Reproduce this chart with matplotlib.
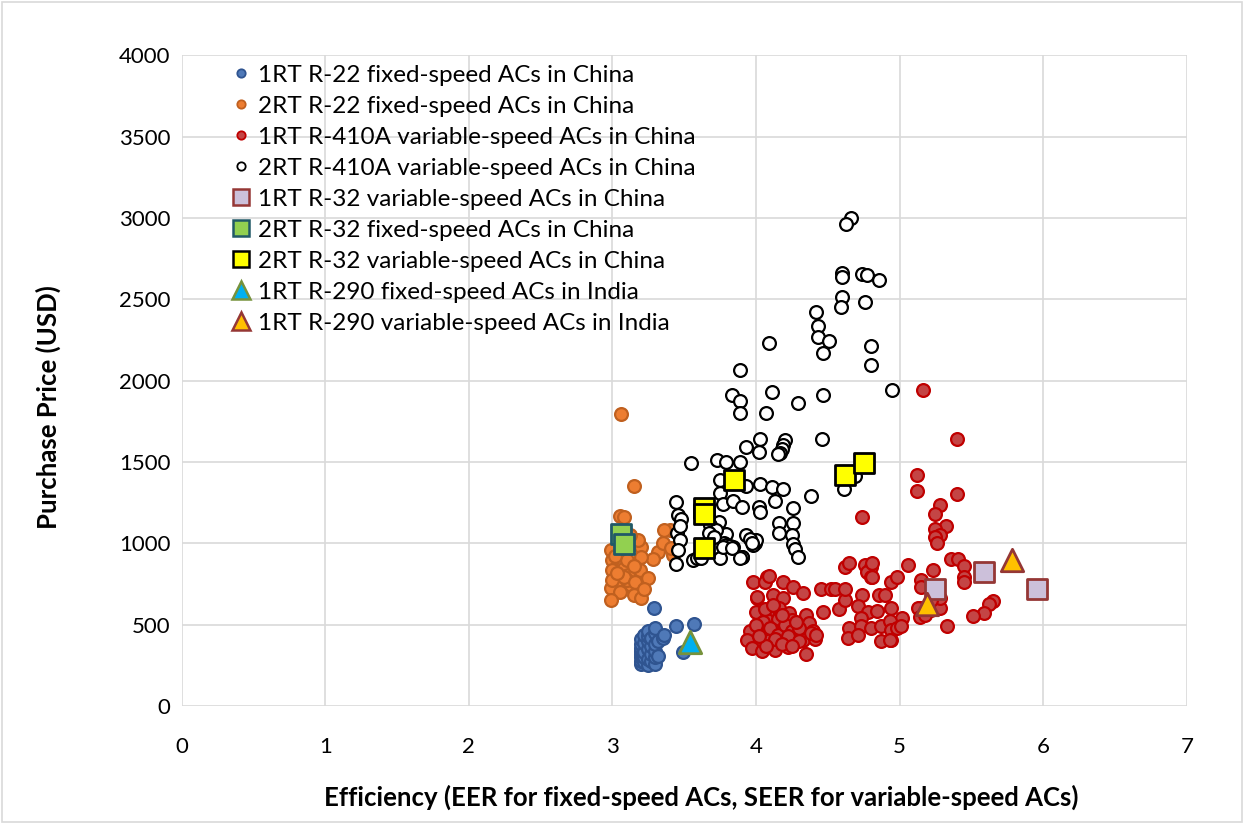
import matplotlib
matplotlib.use("Agg")
import matplotlib.pyplot as plt
from matplotlib.lines import Line2D
from matplotlib.patches import Rectangle

plt.rcParams['font.family'] = ['Lato', 'DejaVu Sans']

# 1RT R-22 fixed-speed ACs in China
r22_1rt_x = [3.20, 3.20, 3.20, 3.20, 3.20, 3.20, 3.20, 3.20, 3.22, 3.22, 3.22, 3.22, 3.22,
             3.25, 3.25, 3.25, 3.25, 3.25, 3.25, 3.27, 3.27, 3.27, 3.27, 3.30, 3.30, 3.30,
             3.30, 3.30, 3.30, 3.32, 3.32, 3.35, 3.36, 3.29, 3.44, 3.57, 3.49]
r22_1rt_y = [260, 280, 300, 320, 340, 360, 380, 410, 270, 300, 330, 390, 440,
             250, 290, 350, 400, 430, 460, 280, 320, 370, 420, 260, 300, 340,
             380, 450, 480, 310, 400, 420, 440, 604, 494, 506, 335]

# 2RT R-22 fixed-speed ACs in China
r22_2rt_x = [3.06, 3.15, 3.05, 3.08, 3.40, 2.99, 3.20, 3.32, 3.28, 3.20, 3.00, 3.08, 3.00,
             3.11, 3.19, 3.25, 3.04, 3.13, 2.99, 3.05, 3.15, 3.20, 2.99, 3.10, 3.00, 3.08,
             3.42, 3.36, 3.05, 3.10, 3.15, 3.02, 3.18, 3.12, 3.35, 3.41, 3.03, 3.16, 3.22]
r22_2rt_y = [1797, 1351, 1168, 1162, 1082, 960, 977, 947, 904, 916, 898, 849, 837,
             806, 837, 788, 745, 745, 727, 703, 684, 666, 653, 776, 776, 794,
             929, 1085, 1000, 900, 860, 920, 1020, 1050, 1000, 972, 820, 760, 720]

# 1RT R-410A variable-speed ACs in China
r410a_1rt_x = [3.98, 4.08, 4.06, 4.19, 4.26, 4.33, 4.45, 4.52, 4.01, 4.12, 4.19, 4.00, 4.08,
               4.16, 4.23, 4.35, 4.47, 4.08, 4.15, 4.25, 4.37, 3.96, 4.04, 4.12, 4.20, 4.33,
               4.40, 3.94, 4.03, 4.10, 4.16, 4.23, 4.33, 4.41, 3.97, 4.04, 4.13, 4.22, 4.35,
               4.09, 4.01, 4.05, 4.10, 4.15, 4.20, 4.25, 4.30, 4.00, 4.06, 4.12, 4.18, 4.22,
               4.28, 4.30, 4.38, 4.42, 4.13, 4.07, 4.18, 4.25, 4.02, 4.58,
               4.62, 4.65, 4.76, 4.80, 4.77, 4.80, 5.06, 4.94, 4.98, 5.15, 5.23, 4.62, 4.74,
               4.86, 4.90, 4.71, 4.78, 4.84, 4.94, 5.02, 5.14, 5.22, 4.65, 4.73, 4.73, 4.80,
               4.87, 4.93, 4.94, 4.98, 4.64, 4.71, 4.87, 4.94, 4.74, 5.16, 5.40, 5.12, 5.12,
               5.40, 5.28, 5.25, 5.32, 5.25, 5.28, 5.25, 5.26, 5.36, 5.41, 5.45, 5.45, 5.45,
               5.15, 5.65, 5.62, 5.59, 5.51, 5.33, 5.28, 5.13, 5.28, 5.14, 5.01, 4.93, 4.81,
               4.81, 4.55, 4.62, 5.22, 5.18]
r410a_1rt_y = [765, 796, 765, 765, 735, 694, 719, 719, 664, 684, 664, 576, 572,
               603, 572, 562, 576, 531, 535, 527, 511, 459, 450, 470, 459, 439,
               459, 408, 398, 408, 398, 408, 408, 413, 357, 337, 347, 364, 323,
               800, 670, 520, 480, 440, 500, 460, 480, 500, 600, 620, 560, 430,
               520, 400, 450, 440, 410, 370, 380, 370, 430, 596,
               857, 880, 868, 857, 827, 796, 868, 765, 792, 776, 837, 653, 684,
               684, 684, 617, 576, 582, 603, 541, 603, 592, 480, 541, 490, 480,
               494, 521, 470, 480, 419, 439, 398, 408, 1160, 1944, 1644, 1419, 1323,
               1303, 1235, 1180, 1107, 1086, 1052, 1041, 1001, 903, 903, 862, 796, 765,
               735, 649, 629, 572, 555, 494, 603, 603, 664, 547, 490, 404, 878,
               796, 720, 720, 650, 560]

# 2RT R-410A variable-speed ACs in China
r410a_2rt_x = [4.66, 4.63, 4.60, 4.60, 4.74, 4.77, 4.86, 4.60, 4.59, 4.76, 4.42, 4.43, 4.43,
               4.51, 4.47, 4.80, 4.80, 4.09, 3.89, 4.95, 3.83, 3.89, 3.89, 4.11, 4.07, 4.29,
               4.47, 4.46, 4.03, 3.93, 4.02, 4.20, 4.19, 4.18, 4.17, 4.15, 3.73, 3.79, 3.89,
               3.75, 3.93, 4.03, 4.11, 4.19, 4.38, 4.61, 3.75, 3.77, 3.84, 3.90, 4.02, 4.03,
               4.13, 4.26, 4.16, 4.26, 4.16, 4.25, 4.26, 4.27, 4.29, 3.93, 3.99, 3.98, 4.00,
               3.90, 3.84, 3.79, 3.74, 3.78, 3.71, 3.75, 3.55, 3.44, 3.46, 3.48, 3.68, 3.72,
               3.70, 3.45, 3.47, 3.46, 3.44, 3.56, 3.59, 3.79, 3.82, 3.90, 3.96, 3.97, 3.67,
               3.71, 3.77, 3.83, 3.89, 3.62, 3.47, 4.69]
r410a_2rt_y = [2997, 2960, 2664, 2637, 2658, 2648, 2617, 2515, 2454, 2486, 2425, 2337, 2266,
               2245, 2168, 2215, 2099, 2229, 2068, 1944, 1915, 1874, 1800, 1929, 1800, 1862,
               1915, 1644, 1644, 1592, 1562, 1633, 1603, 1578, 1553, 1552, 1511, 1500, 1500,
               1388, 1351, 1368, 1347, 1337, 1290, 1337, 1307, 1241, 1262, 1221, 1225, 1192,
               1262, 1215, 1127, 1127, 1066, 1052, 997, 964, 919, 1052, 1005, 990, 1020,
               915, 980, 1058, 1133, 1001, 1072, 909, 1494, 1256, 1174, 1148, 1113, 1082,
               1041, 1062, 1021, 960, 874, 898, 909, 990, 985, 919, 1030, 1000, 1066,
               1041, 980, 970, 909, 909, 1110, 1413]

# 1RT R-32 variable-speed ACs in China
r32_1rt_var_x = [5.25, 5.59, 5.96]
r32_1rt_var_y = [719, 827, 721]

# 2RT R-32 fixed-speed ACs in China
r32_2rt_fix_x = [3.06, 3.08]
r32_2rt_fix_y = [1056, 994]

# 2RT R-32 variable-speed ACs in China
r32_2rt_var_x = [3.85, 3.64, 3.64, 3.64, 4.62, 4.75]
r32_2rt_var_y = [1388, 1215, 1180, 970, 1419, 1494]

# 1RT R-290 ACs in India
r290_fix_x = [3.54]
r290_fix_y = [395]
r290_var_x = [5.19, 5.78]
r290_var_y = [630, 898]

labels = ['1RT R-22 fixed-speed ACs in China',
          '2RT R-22 fixed-speed ACs in China',
          '1RT R-410A variable-speed ACs in China',
          '2RT R-410A variable-speed ACs in China',
          '1RT R-32 variable-speed ACs in China',
          '2RT R-32 fixed-speed ACs in China',
          '2RT R-32 variable-speed ACs in China',
          '1RT R-290 fixed-speed ACs in India',
          '1RT R-290 variable-speed ACs in India']

# (marker, face, edge, scatter size, legend size)
styles = [('o', '#4F79B8', '#2F5490', 85, 6),
          ('o', '#ED7D31', '#C0601F', 85, 6),
          ('o', '#C44545', '#C00000', 85, 6),
          ('o', 'white', 'black', 85, 6),
          ('s', '#CCC0DA', '#953735', 210, 12),
          ('s', '#92D050', '#215967', 210, 12),
          ('s', '#FFFF00', 'black', 210, 12),
          ('^', '#00B0F0', '#76923C', 260, 13),
          ('^', '#FFC000', '#953735', 260, 13)]

series = [(r22_1rt_x, r22_1rt_y), (r22_2rt_x, r22_2rt_y),
          (r410a_1rt_x, r410a_1rt_y), (r410a_2rt_x, r410a_2rt_y),
          (r32_1rt_var_x, r32_1rt_var_y), (r32_2rt_fix_x, r32_2rt_fix_y),
          (r32_2rt_var_x, r32_2rt_var_y), (r290_fix_x, r290_fix_y),
          (r290_var_x, r290_var_y)]

fig = plt.figure(figsize=(12.44, 8.24), dpi=100)
ax = fig.add_axes([0.146, 0.143, 0.808, 0.790])

handles = []
for i, ((xs, ys), (m, fc, ec, s, ls), lab) in enumerate(zip(series, styles, labels)):
    ax.scatter(xs, ys, marker=m, s=s, facecolor=fc, edgecolor=ec,
               linewidth=2.0 if m != 'o' else 1.6, zorder=3 + i)
    handles.append(Line2D([], [], linestyle='none', marker=m, markersize=ls,
                          markerfacecolor=fc, markeredgecolor=ec,
                          markeredgewidth=1.8 if m != 'o' else 1.3, label=lab))

ax.set_xlim(0, 7)
ax.set_ylim(0, 4000)
ax.set_xticks(range(0, 8))
ax.set_yticks(range(0, 4001, 500))
ax.grid(True, color='#d9d9d9', linewidth=1.2, zorder=0)
ax.set_axisbelow(True)
for sp in ax.spines.values():
    sp.set_visible(False)
ax.tick_params(length=0, labelsize=16, colors='black')
ax.tick_params(axis='y', pad=8)
ax.tick_params(axis='x', pad=22)

ax.set_xlabel('Efficiency (EER for fixed-speed ACs, SEER for variable-speed ACs)',
              fontsize=18.5, fontweight='bold')
ax.set_ylabel('Purchase Price (USD)', fontsize=18.5, fontweight='bold')
ax.xaxis.set_label_coords(0.517, -0.12)
ax.yaxis.set_label_coords(-0.12, 0.46)

leg = ax.legend(handles=handles, loc='upper left', bbox_to_anchor=(0.04, 1.0),
                frameon=False, fontsize=17.5, handlelength=0.8, handletextpad=0.3,
                labelspacing=0.41, borderaxespad=0)

fig.patches.append(Rectangle((0.002, 0.002), 0.996, 0.996, transform=fig.transFigure,
                             fill=False, edgecolor='#d9d9d9', linewidth=1.2))

fig.savefig('out.png', dpi=100)
